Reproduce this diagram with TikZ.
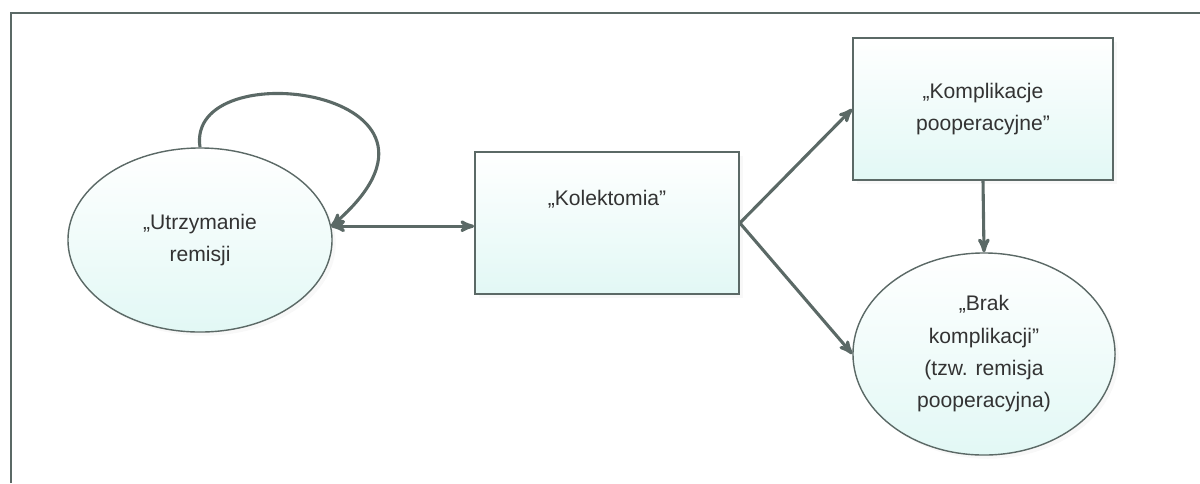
\documentclass[tikz,border=0pt]{standalone}
\usepackage{fontspec}
\setmainfont{Liberation Sans}
\usepackage{tikz}
\usetikzlibrary{arrows,shapes.geometric,shadows}

\definecolor{edge}{HTML}{5B6966}
\definecolor{pale}{HTML}{E2F8F5}
\definecolor{ink}{HTML}{333333}

\begin{document}
\begin{tikzpicture}[->,>=stealth',x=0.025cm,y=-0.025cm,color=edge,
                    line width=2.2pt]
  \tikzstyle{every node}=[align=center,text=ink,inner sep=0pt,
                          font=\fontsize{15}{23}\selectfont]
  \tikzstyle{oval}=[ellipse,draw=edge,line width=1pt,top color=white,
                    bottom color=pale,drop shadow={opacity=0.06}]
  \tikzstyle{box}=[rectangle,draw=edge,line width=1.2pt,top color=white,
                   bottom color=pale,drop shadow={opacity=0.06}]

  \useasboundingbox (0,0) rectangle (1200,483);
  \draw[-,line width=1.5pt] (11,483) -- (11,13) -- (1200,13);

  \node[oval,minimum width=6.6cm,minimum height=4.6cm] (UR) at (200,240)
       {„Utrzymanie\\remisji};
  \node[box,minimum width=6.6cm,minimum height=3.55cm] (KO) at (607,223)
       {„Kolektomia”\\[13pt]};
  \node[box,minimum width=6.5cm,minimum height=3.55cm] (KP) at (983,109)
       {„Komplikacje\\pooperacyjne”};
  \node[oval,minimum width=6.55cm,minimum height=5.05cm] (BK) at (984,354)
       {„Brak\\komplikacji”\\(tzw. remisja\\pooperacyjna)};

  \draw (UR.north) .. controls (185,50) and (490,90) .. (UR.6);
  \draw[<->] (UR.6) -- (UR.6 -| KO.west);
  \draw (KO.east) -- (KP.west);
  \draw (KO.east) -- (BK.west);
  \draw (KP.south) -- (BK.north);

\end{tikzpicture}
\end{document}
